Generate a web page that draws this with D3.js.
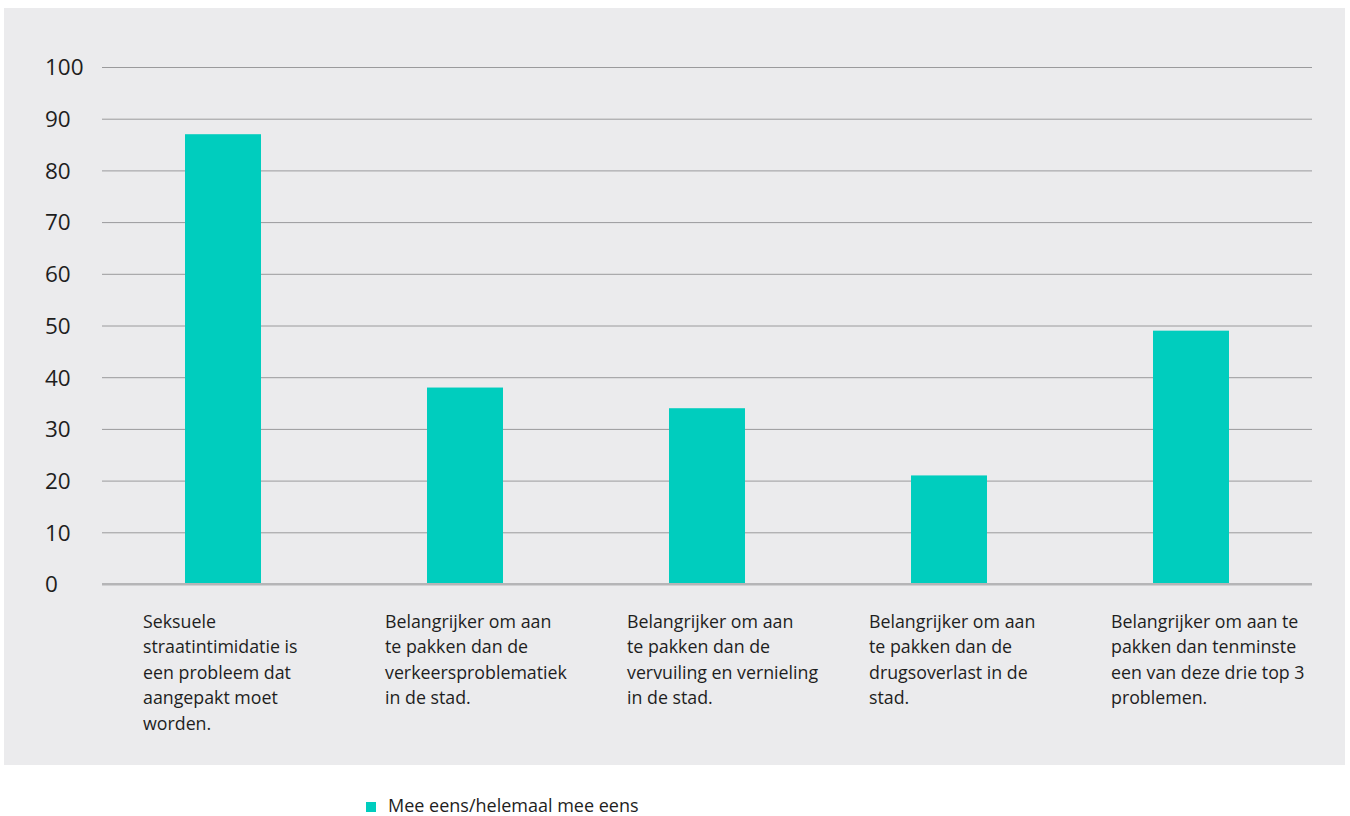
<!DOCTYPE html>
<html>
<head>
<meta charset="utf-8">
<script src="https://cdn.jsdelivr.net/npm/d3@7"></script>
<style>
  html, body { margin: 0; padding: 0; background: #ffffff; }
  svg { display: block; font-family: "Open Sans", Lato, sans-serif; }
</style>
</head>
<body>
<svg id="chart" width="1350" height="816"></svg>
<script>
const categories = [
  ["Seksuele", "straatintimidatie is", "een probleem dat", "aangepakt moet", "worden."],
  ["Belangrijker om aan", "te pakken dan de", "verkeersproblematiek", "in de stad."],
  ["Belangrijker om aan", "te pakken dan de", "vervuiling en vernieling", "in de stad."],
  ["Belangrijker om aan", "te pakken dan de", "drugsoverlast in de", "stad."],
  ["Belangrijker om aan te", "pakken dan tenminste", "een van deze drie top 3", "problemen."]
];
const values = [87, 38, 34, 21, 49];
const yTicks = [0, 10, 20, 30, 40, 50, 60, 70, 80, 90, 100];
const seriesName = "Mee eens/helemaal mee eens";

const svg = d3.select("#chart");
const barColor = "#00CDBE";
const textColor = "#1e1e1e";

svg.append("rect").attr("x", 4).attr("y", 8).attr("width", 1341).attr("height", 757).attr("fill", "#EBEBED");

const margin = { left: 102, right: 1312, top: 67, bottom: 584 };
const x = d3.scaleBand().domain(d3.range(values.length)).range([margin.left, margin.right])
  .paddingInner(0.686).paddingOuter(0.343);
const y = d3.scaleLinear().domain([0, 100]).range([margin.bottom, margin.top]);

// gridlines + tick labels
const yAxis = d3.axisLeft(y).tickValues(yTicks).tickSize(-(margin.right - margin.left)).tickFormat(d3.format("d"));
const gy = svg.append("g").attr("transform", `translate(${margin.left},0)`).call(yAxis);
gy.select(".domain").remove();
gy.selectAll(".tick line").attr("stroke", d => d === 0 ? "#b5b5b7" : "#9a9a9c").attr("stroke-width", d => d === 0 ? 2 : 1);
gy.selectAll(".tick text")
  .attr("x", 45 - margin.left).attr("text-anchor", "start")
  .attr("font-size", 22.5).attr("fill", textColor).attr("font-family", "'Open Sans', sans-serif").attr("dy", "0.35em");

// bars
svg.append("g").selectAll("rect").data(values).join("rect")
  .attr("x", (d, i) => x(i)).attr("width", x.bandwidth())
  .attr("y", d => y(d)).attr("height", d => y(0) - y(d))
  .attr("fill", barColor);

// baseline above bars
svg.append("line").attr("x1", margin.left).attr("x2", margin.right)
  .attr("y1", y(0)).attr("y2", y(0)).attr("stroke", "#b5b5b7").attr("stroke-width", 2);

// category labels
const lab = svg.append("g").selectAll("text").data(categories).join("text")
  .attr("font-size", 17.8).attr("fill", textColor)
  .attr("transform", (d, i) => `translate(${x(i) - 42},0)`);
lab.each(function (lines) {
  const t = d3.select(this);
  lines.forEach((l, k) => {
    t.append("tspan").attr("x", 0).attr("y", 627.5 + k * 25.5).text(l);
  });
});

// legend
const lg = svg.append("g").attr("transform", "translate(366,802)");
lg.append("rect").attr("width", 10).attr("height", 10).attr("fill", barColor);
lg.append("text").attr("x", 22).attr("y", 10).attr("font-size", 18).attr("fill", textColor).text(seriesName);
</script>
</body>
</html>
